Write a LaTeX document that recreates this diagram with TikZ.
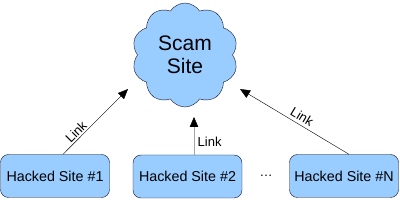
\documentclass[tikz,border=0pt]{standalone}
\usepackage{fontspec}
\setmainfont{Liberation Sans}
\usetikzlibrary{positioning,arrows.meta,shapes.symbols}
\definecolor{SiteBlue}{RGB}{153,204,255}
\definecolor{EdgeDark}{RGB}{20,20,40}

\begin{document}
\begin{tikzpicture}[
x=1pt, y=-1pt,
font=\fontsize{13}{15}\selectfont,
site/.style={draw=EdgeDark, fill=SiteBlue, rounded corners=8pt, minimum width=109pt, minimum height=43pt, inner sep=0pt, font=\fontsize{14.3}{16}\selectfont},
scam/.style={cloud, cloud puffs=10, cloud puff arc=115, draw=EdgeDark, fill=SiteBlue, minimum width=106pt, minimum height=104pt, align=center, font=\fontsize{21}{23}\selectfont},
arr/.style={-{Triangle[length=10pt,width=8.5pt]}, draw=black},
lbl/.style={inner sep=1.5pt}
]
\useasboundingbox (0,0) rectangle (400,211);
\node[scam] (cloud) at (185,55) {Scam\\Site};
\node[site] (site1) at (55,176) {Hacked Site \#1};
\node[site] (site2) at (187.5,176.5) {Hacked Site \#2};
\node[site] (siteN) at (344,176) {Hacked Site \#N};
\node (dots) at (266,176) {\dots};

\coordinate (tip1) at (128,89);
\coordinate (tip2) at (194,117);
\coordinate (tip3) at (240,89);

\draw[arr] ([xshift=8pt]site1.north) -- node[lbl, pos=0.27, sloped, above] {Link} (tip1);
\draw[arr, draw=black!35, -{Triangle[length=10pt,width=8.5pt,color=black]}] (site2.north -| tip2) -- node[lbl, pos=0.35, right=2pt] {Link} (tip2);
\draw[arr] ([xshift=5pt]siteN.north) -- node[lbl, pos=0.47, sloped, above=2pt] {Link} (tip3);
\end{tikzpicture}
\end{document}
